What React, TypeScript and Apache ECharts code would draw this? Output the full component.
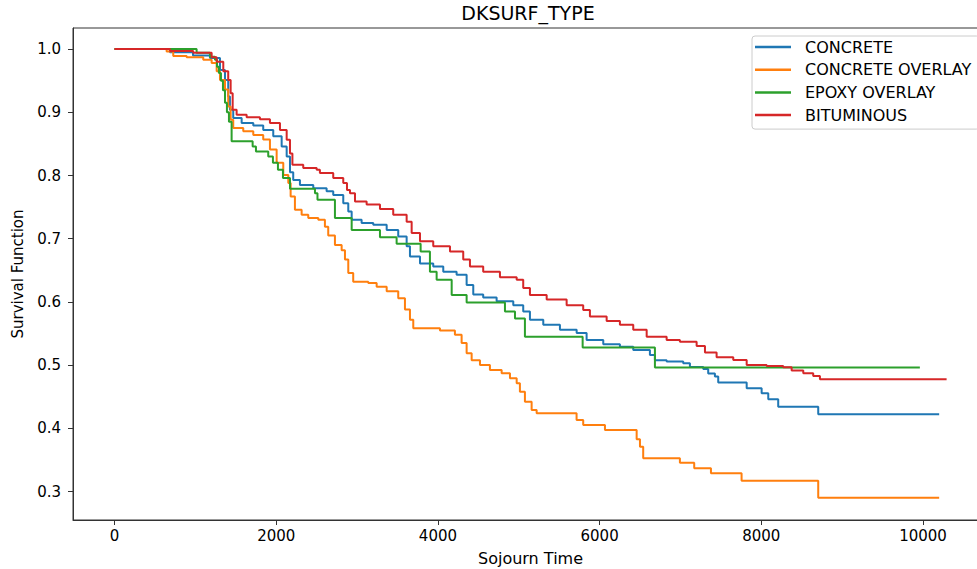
import React, { useEffect, useRef } from "react";
import * as echarts from "echarts";

const chartTitle = "DKSURF_TYPE";
const xName = "Sojourn Time";
const yName = "Survival Function";
const xTicks = [0, 2000, 4000, 6000, 8000, 10000];
const yTicks = [0.3, 0.4, 0.5, 0.6, 0.7, 0.8, 0.9, 1.0];
const seriesNames = ["CONCRETE", "CONCRETE OVERLAY", "EPOXY OVERLAY", "BITUMINOUS"];
const seriesColors = ["#1f77b4", "#ff7f0e", "#2ca02c", "#d62728"];

const concrete = [
  [0, 1], [685, 0.995], [970, 0.99], [1180, 0.986], [1304, 0.967], [1366, 0.951], [1406, 0.925],
  [1427, 0.904], [1468, 0.891], [1572, 0.883], [1716, 0.879], [1839, 0.872], [1963, 0.862],
  [2067, 0.846], [2129, 0.83], [2170, 0.805], [2210, 0.793], [2293, 0.785], [2458, 0.78],
  [2623, 0.775], [2705, 0.769], [2829, 0.756], [2891, 0.743], [2933, 0.73], [3056, 0.725],
  [3200, 0.722], [3366, 0.714], [3509, 0.7035], [3613, 0.688], [3654, 0.672], [3778, 0.661],
  [3942, 0.656], [4066, 0.648], [4231, 0.643], [4355, 0.627], [4437, 0.612], [4560, 0.607],
  [4726, 0.601], [4932, 0.595], [5055, 0.585], [5138, 0.572], [5303, 0.564], [5509, 0.556],
  [5716, 0.551], [5839, 0.54], [6045, 0.533], [6251, 0.529], [6416, 0.524], [6622, 0.516],
  [6684, 0.508], [6829, 0.506], [7034, 0.503], [7117, 0.497], [7282, 0.494], [7343, 0.487],
  [7426, 0.482], [7467, 0.4725], [7819, 0.4636], [8004, 0.4557], [8086, 0.4462], [8209, 0.4345],
  [8704, 0.4225], [10200, 0.4225],
];

const concreteOverlay = [
  [0, 1], [644, 0.996], [726, 0.989], [892, 0.987], [1097, 0.983], [1201, 0.978], [1263, 0.965],
  [1304, 0.951], [1366, 0.936], [1406, 0.909], [1436, 0.888], [1468, 0.875], [1592, 0.87],
  [1716, 0.864], [1839, 0.857], [1922, 0.841], [2005, 0.82], [2087, 0.801], [2149, 0.788],
  [2178, 0.767], [2231, 0.746], [2314, 0.738], [2396, 0.733], [2520, 0.73], [2602, 0.719],
  [2643, 0.705], [2726, 0.69], [2809, 0.682], [2850, 0.667], [2891, 0.646], [2952, 0.632],
  [3138, 0.63], [3242, 0.624], [3366, 0.617], [3509, 0.606], [3592, 0.588], [3654, 0.572],
  [3695, 0.5585], [4025, 0.555], [4210, 0.548], [4293, 0.535], [4355, 0.519], [4417, 0.508],
  [4520, 0.5005], [4643, 0.4926], [4788, 0.4873], [4891, 0.4794], [4974, 0.4715], [5014, 0.458],
  [5076, 0.4424], [5159, 0.4293], [5221, 0.424], [5715, 0.4134], [5797, 0.4055], [6066, 0.3976],
  [6458, 0.3829], [6499, 0.3712], [6539, 0.3528], [6993, 0.3459], [7170, 0.337], [7377, 0.329],
  [7756, 0.3174], [8704, 0.2905], [10200, 0.2905],
];

const epoxyOverlay = [
  [0, 1], [1015, 0.994], [1180, 0.988], [1242, 0.983], [1267, 0.972], [1291, 0.962], [1316, 0.95],
  [1341, 0.935], [1366, 0.915], [1390, 0.9], [1415, 0.885], [1448, 0.854], [1708, 0.846],
  [1749, 0.838], [1901, 0.83], [1959, 0.82], [2021, 0.809], [2083, 0.796], [2170, 0.779],
  [2479, 0.772], [2510, 0.7615], [2726, 0.733], [2933, 0.714], [3283, 0.7025], [3489, 0.692],
  [3786, 0.68], [3901, 0.648], [3984, 0.635], [4170, 0.611], [4355, 0.599], [4829, 0.585],
  [4953, 0.574], [5076, 0.545], [5790, 0.528], [6684, 0.4963], [9961, 0.4963],
];

const bituminous = [
  [0, 1], [685, 0.997], [973, 0.994], [1201, 0.987], [1263, 0.98], [1345, 0.965], [1406, 0.951],
  [1436, 0.93], [1461, 0.904], [1510, 0.896], [1634, 0.892], [1798, 0.889], [1922, 0.883],
  [2046, 0.872], [2129, 0.8565], [2170, 0.835], [2200, 0.817], [2334, 0.812], [2500, 0.809],
  [2540, 0.804], [2705, 0.796], [2829, 0.788], [2875, 0.777], [2912, 0.772], [2974, 0.759],
  [3118, 0.754], [3283, 0.747], [3447, 0.738], [3613, 0.727], [3675, 0.709], [3778, 0.696],
  [3942, 0.688], [4149, 0.68], [4313, 0.667], [4396, 0.656], [4560, 0.648], [4767, 0.639],
  [4974, 0.635], [5055, 0.622], [5138, 0.611], [5345, 0.604], [5592, 0.595], [5797, 0.5875],
  [5880, 0.577], [6087, 0.57], [6251, 0.564], [6416, 0.556], [6582, 0.545], [6829, 0.54],
  [6993, 0.537], [7200, 0.5305], [7303, 0.52], [7447, 0.5127], [7653, 0.5084], [7819, 0.5005],
  [8066, 0.4989], [8271, 0.4968], [8375, 0.4915], [8519, 0.4873], [8642, 0.483], [8725, 0.4778],
  [10292, 0.4778],
];

const seriesData = [concrete, concreteOverlay, epoxyOverlay, bituminous];

const FONT = "'DejaVu Sans', sans-serif";

export default function App() {
  const ref = useRef<HTMLDivElement>(null);
  useEffect(() => {
    document.body.style.margin = "0";
    if (!ref.current) return;
    const chart = echarts.init(ref.current, null, { renderer: "svg" });
    const axisColor = "#333";
    chart.setOption({
      animation: false,
      backgroundColor: "#fff",
      textStyle: { fontFamily: FONT },
      grid: {
        left: 73,
        top: 28,
        width: 915,
        height: 492,
        show: true,
        borderColor: axisColor,
        borderWidth: 1,
        backgroundColor: "transparent",
        containLabel: false,
        outerBoundsMode: "none",
      },
      graphic: [
        {
          type: "text",
          x: 528,
          y: 13,
          style: {
            text: chartTitle,
            align: "center",
            verticalAlign: "middle",
            font: `19px ${FONT}`,
            fill: "#000",
          },
        },
      ],
      legend: {
        orient: "vertical",
        left: 752,
        top: 36,
        padding: [3, 8, 6, 3],
        itemGap: 6.7,
        itemWidth: 36,
        itemHeight: 2.5,
        icon: "rect",
        backgroundColor: "rgba(255,255,255,0.8)",
        borderColor: "#ccc",
        borderWidth: 1,
        borderRadius: 3,
        textStyle: { fontFamily: FONT, fontSize: 16, color: "#000", lineHeight: 16, padding: [0, 0, 0, 9] },
        data: seriesNames,
      },
      xAxis: {
        type: "value",
        min: -514,
        max: 10804,
        name: xName,
        nameLocation: "middle",
        nameGap: 30,
        nameTextStyle: { fontFamily: FONT, fontSize: 16, color: "#000" },
        axisLine: { show: true, onZero: false, lineStyle: { color: axisColor, width: 1 } },
        splitLine: { show: false },
        axisTick: { show: true, inside: false, length: 5, customValues: xTicks, lineStyle: { color: axisColor, width: 1 } },
        axisLabel: {
          customValues: xTicks,
          margin: 8,
          fontFamily: FONT,
          fontSize: 15,
          color: "#000",
          formatter: (v: number) => String(v),
        },
      },
      yAxis: {
        type: "value",
        min: 0.2552,
        max: 1.0333,
        name: yName,
        nameLocation: "middle",
        nameGap: 48,
        nameTextStyle: { fontFamily: FONT, fontSize: 15, color: "#000" },
        axisLine: { show: true, onZero: false, lineStyle: { color: axisColor, width: 1 } },
        splitLine: { show: false },
        axisTick: { show: true, inside: false, length: 5, customValues: yTicks, lineStyle: { color: axisColor, width: 1 } },
        axisLabel: {
          customValues: yTicks,
          margin: 12,
          fontFamily: FONT,
          fontSize: 15,
          color: "#000",
          formatter: (v: number) => v.toFixed(1),
        },
      },
      series: seriesNames.map((name, i) => ({
        name,
        type: "line",
        step: "end",
        data: seriesData[i],
        showSymbol: false,
        symbol: "none",
        color: seriesColors[i],
        lineStyle: { color: seriesColors[i], width: 2 },
        clip: true,
      })),
    });
    return () => chart.dispose();
  }, []);
  return <div ref={ref} style={{ width: 977, height: 569 }} />;
}
